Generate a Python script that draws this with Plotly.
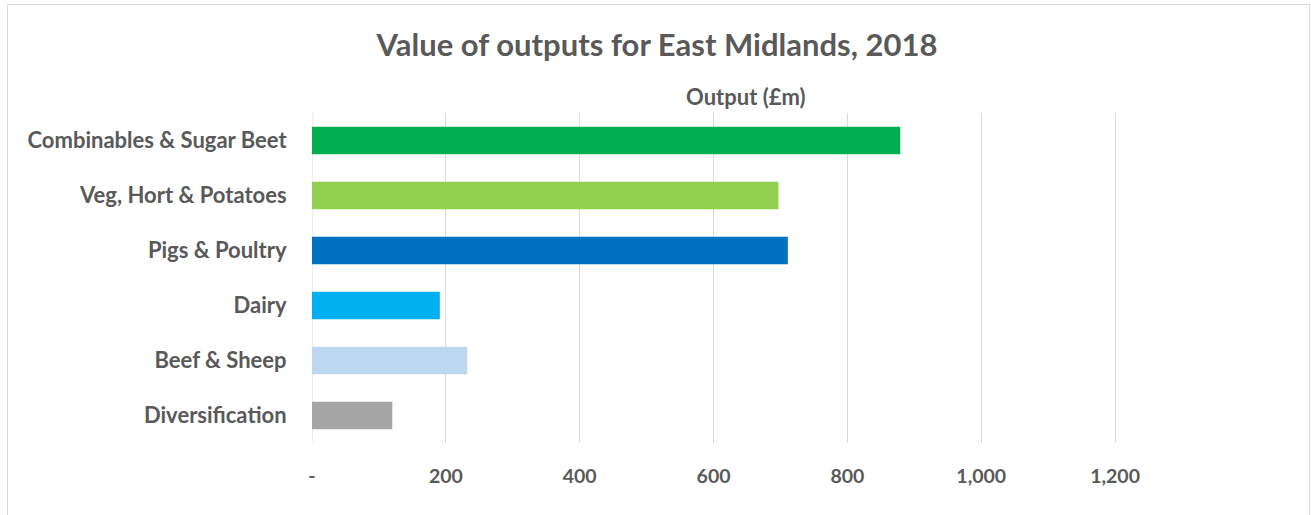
import plotly.graph_objects as go

categories = ["Combinables & Sugar Beet", "Veg, Hort & Potatoes", "Pigs & Poultry",
              "Dairy", "Beef & Sheep", "Diversification"]
values = [879, 697, 711, 191, 232, 120]
colors = ["#00B050", "#92D050", "#0070C0", "#00B0F0", "#BDD7EE", "#A5A5A5"]
tick_vals = [0, 200, 400, 600, 800, 1000, 1200]
tick_text = ["-", "200", "400", "600", "800", "1,000", "1,200"]

FONT = "Lato"
GREY = "#595959"

fig = go.Figure(go.Bar(
    y=categories, x=values, orientation="h",
    marker=dict(color=colors, line=dict(width=0)),
    width=0.5,
))

W, H = 1311, 515
L, R, T, B = 312, 131, 113, 72
pw = W - L - R
ph = H - T - B

def px_x(p):
    return (p - L) / pw

def px_y(p):
    return (H - B - p) / ph

fig.update_layout(
    width=W, height=H,
    margin=dict(l=L, r=R, t=T, b=B),
    paper_bgcolor="white", plot_bgcolor="white",
    showlegend=False,
    title=dict(text="Value of outputs for East Midlands, 2018",
               x=px_x(657), xanchor="center", xref="paper",
               y=1 - 45 / H, yanchor="middle",
               font=dict(family=FONT, size=31, color=GREY, weight="bold")),
    font=dict(family=FONT, color=GREY),
    xaxis=dict(range=[0, 1297], tickvals=tick_vals, ticktext=tick_text,
               showgrid=True, gridcolor="#D9D9D9", gridwidth=1,
               zeroline=False, showline=False,
               ticks="outside", ticklen=16, tickcolor="rgba(0,0,0,0)",
               tickfont=dict(family=FONT, size=19.5, color=GREY, weight="bold"),
               fixedrange=True),
    yaxis=dict(categoryorder="array", categoryarray=categories[::-1],
               showgrid=False, zeroline=False, showline=False,
               ticks="outside", ticklen=20, tickcolor="rgba(0,0,0,0)",
               tickfont=dict(family=FONT, size=22, color=GREY, weight="bold"),
               fixedrange=True),
    annotations=[dict(text="Output (£m)", xref="paper", yref="paper",
                      x=px_x(746), y=px_y(96), xanchor="center", yanchor="middle",
                      showarrow=False,
                      font=dict(family=FONT, size=22, color=GREY, weight="bold"))],
    shapes=[dict(type="rect", xref="paper", yref="paper",
                 x0=px_x(7.5), x1=px_x(1309.5), y0=px_y(520), y1=px_y(4.5),
                 line=dict(color="#D9D9D9", width=1), layer="below"),
            dict(type="line", xref="x", yref="paper", x0=0, x1=0, y0=0, y1=1,
                 line=dict(color="#D9D9D9", width=1), layer="below")],
)

fig.write_html("out.html",
               config={"displayModeBar": False},
               post_script="document.body.style.margin='0';document.body.style.overflow='hidden';")
